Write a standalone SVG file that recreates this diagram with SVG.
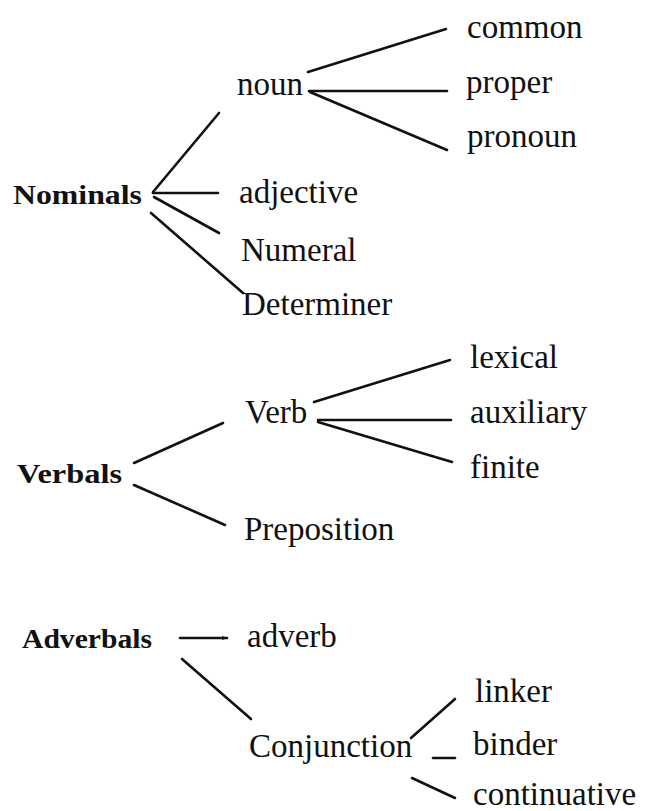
<svg xmlns="http://www.w3.org/2000/svg" width="647" height="811" viewBox="0 0 647 811">
<style>
text{font-family:"Liberation Serif","Times New Roman",serif;fill:#111;}
.t{font-size:33px;}
.b{font-size:27px;font-weight:bold;}
.c line{stroke:#111;stroke-width:2.6;stroke-linecap:round;}
</style>
<defs>
<marker id="ah" viewBox="0 0 6 6" refX="5" refY="3" markerWidth="6" markerHeight="6" markerUnits="userSpaceOnUse" orient="auto">
<path d="M0,1 L6,3 L0,5 z" fill="#111"/>
</marker>
</defs>
<rect width="647" height="811" fill="#fff"/>
<g class="c" id="connectors">
<line x1="308" y1="72" x2="446" y2="29"/>
<line x1="309" y1="91" x2="447" y2="91"/>
<line x1="310" y1="92" x2="447" y2="150"/>
<line x1="153" y1="192" x2="219" y2="113"/>
<line x1="153" y1="193" x2="218" y2="193"/>
<line x1="154" y1="197" x2="219" y2="233"/>
<line x1="151" y1="213" x2="243" y2="293"/>
<line x1="314" y1="402" x2="450" y2="360"/>
<line x1="318" y1="420" x2="451" y2="420"/>
<line x1="318" y1="422" x2="452" y2="462"/>
<line x1="134" y1="463" x2="223" y2="423"/>
<line x1="134" y1="485" x2="225" y2="525"/>
<line x1="180" y1="638" x2="227" y2="638" marker-end="url(#ah)"/>
<line x1="182" y1="659" x2="251" y2="719"/>
<line x1="411" y1="738" x2="455" y2="699"/>
<line x1="433" y1="758" x2="455" y2="758"/>
<line x1="412" y1="778" x2="455" y2="798"/>
</g>
<g id="common"><text class="t" x="467" y="38">common</text></g>
<g id="noun"><text class="t" x="237" y="95">noun</text></g>
<g id="proper"><text class="t" x="466" y="93">proper</text></g>
<g id="pronoun"><text class="t" x="467" y="147">pronoun</text></g>
<g id="nominals"><text class="b" x="13" y="204" textLength="129" lengthAdjust="spacingAndGlyphs">Nominals</text></g>
<g id="adjective"><text class="t" x="239" y="203">adjective</text></g>
<g id="numeral"><text class="t" x="241" y="261">Numeral</text></g>
<g id="determiner"><text class="t" x="242" y="315">Determiner</text></g>
<g id="lexical"><text class="t" x="470" y="368">lexical</text></g>
<g id="verb"><text class="t" x="245" y="423">Verb</text></g>
<g id="auxiliary"><text class="t" x="470" y="423">auxiliary</text></g>
<g id="verbals"><text class="b" x="17" y="483" textLength="105" lengthAdjust="spacingAndGlyphs">Verbals</text></g>
<g id="finite"><text class="t" x="470" y="478">finite</text></g>
<g id="preposition"><text class="t" x="244" y="540">Preposition</text></g>
<g id="adverbals"><text class="b" x="22" y="648" textLength="130" lengthAdjust="spacingAndGlyphs">Adverbals</text></g>
<g id="adverb"><text class="t" x="247" y="647">adverb</text></g>
<g id="linker"><text class="t" x="475" y="702">linker</text></g>
<g id="conjunction"><text class="t" x="249" y="757">Conjunction</text></g>
<g id="binder"><text class="t" x="473" y="755">binder</text></g>
<g id="continuative"><text class="t" x="473" y="805">continuative</text></g>
</svg>
